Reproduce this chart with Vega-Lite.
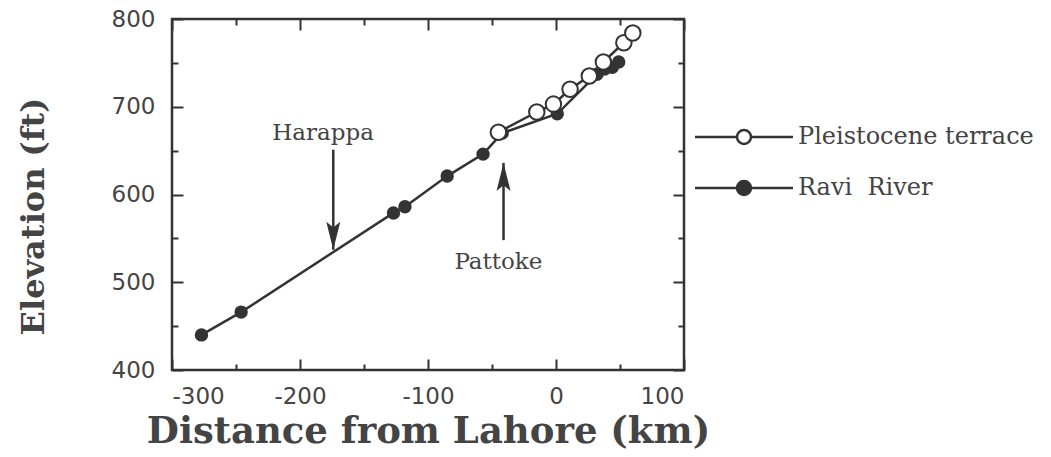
{
  "$schema": "https://vega.github.io/schema/vega-lite/v6.json",
  "width": 512,
  "height": 351,
  "autosize": {"type": "none"},
  "padding": {"left": 172, "top": 19, "right": 367, "bottom": 87},
  "background": "white",
  "config": {
    "view": {"stroke": "#333", "strokeWidth": 2.5},
    "axis": {"domain": false, "grid": false, "tickColor": "#333", "tickWidth": 2, "labelFont": "DejaVu Sans", "labelFontSize": 23, "labelColor": "#444"}
  },
  "datasets": {
    "profile": [
      {"series": "Ravi River", "distance": -277, "elevation": 440},
      {"series": "Ravi River", "distance": -246, "elevation": 466},
      {"series": "Ravi River", "distance": -127, "elevation": 579},
      {"series": "Ravi River", "distance": -118, "elevation": 586},
      {"series": "Ravi River", "distance": -85, "elevation": 621},
      {"series": "Ravi River", "distance": -57, "elevation": 646},
      {"series": "Ravi River", "distance": -42, "elevation": 670},
      {"series": "Ravi River", "distance": 1, "elevation": 692},
      {"series": "Ravi River", "distance": 32, "elevation": 737},
      {"series": "Ravi River", "distance": 38, "elevation": 743},
      {"series": "Ravi River", "distance": 44, "elevation": 745},
      {"series": "Ravi River", "distance": 49, "elevation": 751},
      {"series": "Pleistocene terrace", "distance": -45, "elevation": 671},
      {"series": "Pleistocene terrace", "distance": -15, "elevation": 694},
      {"series": "Pleistocene terrace", "distance": -2, "elevation": 703},
      {"series": "Pleistocene terrace", "distance": 11, "elevation": 720},
      {"series": "Pleistocene terrace", "distance": 26, "elevation": 735},
      {"series": "Pleistocene terrace", "distance": 37, "elevation": 751},
      {"series": "Pleistocene terrace", "distance": 53, "elevation": 773},
      {"series": "Pleistocene terrace", "distance": 60, "elevation": 784}
    ],
    "notes": [
      {"name": "Harappa", "x": -174, "tail": 651, "tip": 537, "dir": "down", "lx": -182, "ly": 670},
      {"name": "Pattoke", "x": -41, "tail": 548, "tip": 636, "dir": "up", "lx": -45, "ly": 523}
    ]
  },
  "layer": [
    {
      "data": {"name": "profile"},
      "mark": {"type": "line", "stroke": "#333", "strokeWidth": 2.5},
      "encoding": {
        "x": {"field": "distance", "type": "quantitative", "scale": {"domain": [-300, 100], "nice": false, "zero": false},
          "axis": {"orient": "bottom", "values": [-300, -250, -200, -150, -100, -50, 0, 50, 100],
            "labelExpr": "datum.value % 100 === 0 ? '' + datum.value : ''",
            "tickSize": {"condition": {"test": "datum.value % 100 !== 0", "value": -6}, "value": -11},
            "labelPadding": 26,
            "title": "Distance from Lahore (km)", "titleFont": "DejaVu Serif", "titleFontWeight": "bold", "titleFontSize": 37, "titleColor": "#444",
            "titleY": 61, "titleBaseline": "middle"}},
        "y": {"field": "elevation", "type": "quantitative", "scale": {"domain": [400, 800], "nice": false, "zero": false},
          "axis": {"orient": "left", "values": [400, 450, 500, 550, 600, 650, 700, 750, 800],
            "labelExpr": "datum.value % 100 === 0 ? datum.label : ''",
            "tickSize": {"condition": {"test": "datum.value % 100 !== 0", "value": -6}, "value": -11},
            "labelPadding": 28,
            "title": "Elevation (ft)", "titleFont": "DejaVu Serif", "titleFontWeight": "bold", "titleFontSize": 32, "titleColor": "#444",
            "titleX": -139, "titleY": 197, "titleAlign": "center", "titleBaseline": "middle"}},
        "detail": {"field": "series"}
      }
    },
    {
      "data": {"name": "profile"},
      "mark": {"type": "point", "shape": "circle", "filled": true, "stroke": "#333", "strokeWidth": 2, "opacity": 1},
      "encoding": {
        "x": {"field": "distance", "type": "quantitative", "scale": {"domain": [-300, 100], "nice": false, "zero": false}, "axis": null},
        "y": {"field": "elevation", "type": "quantitative", "scale": {"domain": [400, 800], "nice": false, "zero": false}, "axis": null},
        "fill": {"field": "series", "type": "nominal",
          "scale": {"domain": ["Pleistocene terrace", "Ravi River"], "range": ["white", "#333"]},
          "legend": {"title": null, "orient": "none", "legendX": 518, "legendY": 106,
            "symbolType": "M -7 0 L -1 0 M 1 0 L 7 0 M -1 0 A 1 1 0 1 1 1 0 A 1 1 0 1 1 -1 0 Z",
            "symbolSize": 196, "symbolStrokeColor": "#333", "symbolStrokeWidth": 2.5,
            "symbolOffset": 42, "labelOffset": 42, "labelLimit": 400,
            "labelExpr": "datum.label === 'Ravi River' ? 'Ravi\u00a0\u00a0River' : datum.label",
            "labelFont": "DejaVu Serif", "labelFontSize": 24, "labelColor": "#444", "rowPadding": 27}},
        "size": {"condition": {"test": "datum.series === 'Ravi River'", "value": 130}, "value": 240}
      }
    },
    {
      "data": {"name": "notes"},
      "mark": {"type": "rule", "stroke": "#333", "strokeWidth": 2.5},
      "encoding": {
        "x": {"field": "x", "type": "quantitative", "scale": {"domain": [-300, 100], "nice": false, "zero": false}, "axis": null},
        "y": {"field": "tail", "type": "quantitative", "scale": {"domain": [400, 800], "nice": false, "zero": false}, "axis": null},
        "y2": {"field": "tip"}
      }
    },
    {
      "data": {"name": "notes"},
      "mark": {"type": "point", "filled": true, "fill": "#333", "stroke": null, "opacity": 1, "size": 196},
      "encoding": {
        "x": {"field": "x", "type": "quantitative", "scale": {"domain": [-300, 100], "nice": false, "zero": false}, "axis": null},
        "y": {"field": "tip", "type": "quantitative", "scale": {"domain": [400, 800], "nice": false, "zero": false}, "axis": null},
        "shape": {"field": "dir", "type": "nominal",
          "scale": {"domain": ["down", "up"], "range": ["M 0 0 L -1 -4 L 0 -3.2 L 1 -4 Z", "M 0 0 L -1 4 L 0 3.2 L 1 4 Z"]}, "legend": null}
      }
    },
    {
      "data": {"name": "notes"},
      "mark": {"type": "text", "font": "DejaVu Serif", "fontSize": 23, "color": "#444", "align": "center", "baseline": "middle"},
      "encoding": {
        "x": {"field": "lx", "type": "quantitative", "scale": {"domain": [-300, 100], "nice": false, "zero": false}, "axis": null},
        "y": {"field": "ly", "type": "quantitative", "scale": {"domain": [400, 800], "nice": false, "zero": false}, "axis": null},
        "text": {"field": "name"}
      }
    },
    {
      "data": {"name": "profile"},
      "mark": {"type": "point", "opacity": 0},
      "encoding": {
        "x": {"field": "distance", "type": "quantitative", "scale": {"domain": [-300, 100], "nice": false, "zero": false},
          "axis": {"orient": "top", "values": [-300, -250, -200, -150, -100, -50, 0, 50, 100], "labels": false, "title": null,
            "tickSize": {"condition": {"test": "datum.value % 100 !== 0", "value": -6}, "value": -11}}},
        "y": {"field": "elevation", "type": "quantitative", "scale": {"domain": [400, 800], "nice": false, "zero": false},
          "axis": {"orient": "right", "values": [400, 450, 500, 550, 600, 650, 700, 750, 800], "labels": false, "title": null,
            "tickSize": {"condition": {"test": "datum.value % 100 !== 0", "value": -6}, "value": -11}}}
      }
    }
  ],
  "resolve": {"axis": {"x": "independent", "y": "independent"}}
}
